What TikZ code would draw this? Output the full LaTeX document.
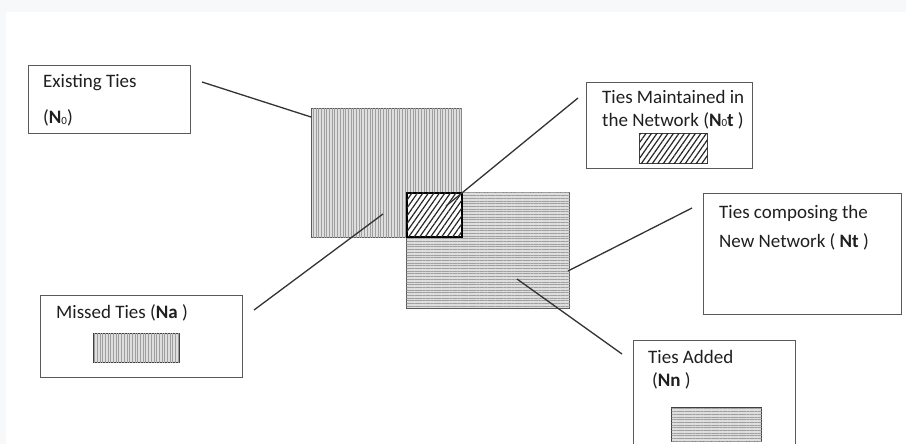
\documentclass[tikz,border=0pt]{standalone}
\usepackage{fontspec}
\setmainfont{Carlito}
\usetikzlibrary{patterns.meta}
\definecolor{edge}{HTML}{5A5A5A}
\definecolor{ink}{HTML}{333333}
\definecolor{band}{HTML}{F7F8FA}
\tikzset{
  x=1pt, y=-1pt,
  labelbox/.style={draw=edge, line width=1.3pt, fill=white, inner sep=0pt, anchor=north west},
  txt/.style={anchor=base west, inner sep=0pt, text=black!88, font=\fontsize{19}{23}\selectfont},
  leader/.style={draw=ink, line width=1.3pt},
  vfill/.style={fill=gray!26, postaction={pattern={Lines[angle=90,distance=2.7pt,line width=0.8pt]}, pattern color=gray!75}},
  hfill/.style={fill=gray!26, postaction={pattern={Lines[angle=0,distance=2.7pt,line width=0.8pt]}, pattern color=gray!75}},
  dfill/.style={fill=white, postaction={pattern={Lines[angle=55,distance=4.5pt,line width=1.2pt]}, pattern color=black!85}},
  hatchbox/.style={draw=black!75, line width=1.2pt, inner sep=0pt, anchor=north west},
}
\newcommand{\Nzero}{\textbf{N}{\fontsize{11}{11}\selectfont\raisebox{-1pt}{0}}}
\begin{document}
\begin{tikzpicture}
\useasboundingbox (0,0) rectangle (906,444);
\clip (0,0) rectangle (906,444);
% page frame
\fill[white] (0,0) rectangle (906,444);
\fill[band] (0,0) rectangle (906,12);
\fill[band] (0,12) rectangle (6,444);

% the two tie sets and their overlap
\node[hatchbox, vfill, draw=edge, minimum width=150pt, minimum height=129pt] (setA) at (311,108) {};
\node[hatchbox, hfill, draw=edge, minimum width=163pt, minimum height=116pt] (setB) at (406,192) {};
\node[hatchbox, dfill, draw=black, line width=1.6pt, minimum width=55pt, minimum height=44pt] (both) at (406,192) {};

% label boxes
\node[labelbox, minimum width=162pt, minimum height=68pt] (exist) at (28,65) {};
\node[txt] (existT) at (43,88) {Existing Ties};
\node[txt] (existN) at (43,124) {(\Nzero)};

\node[labelbox, minimum width=166pt, minimum height=86pt] (keep) at (586,82) {};
\node[txt] (keepT1) at (602,103) {Ties Maintained in};
\node[txt] (keepT2) at (602,126) {the Network (\Nzero\textbf{t} )};
\node[hatchbox, dfill, minimum width=68pt, minimum height=30pt] (keepK) at (639,133) {};

\node[labelbox, minimum width=198pt, minimum height=121pt] (newnet) at (703,193) {};
\node[txt] (newT1) at (719,218) {Ties composing the};
\node[txt] (newT2) at (719,247) {New Network ( \textbf{Nt} )};

\node[labelbox, minimum width=202pt, minimum height=82pt] (miss) at (40,295) {};
\node[txt] (missT) at (56,318) {Missed Ties (\textbf{Na} )};
\node[hatchbox, vfill, minimum width=86pt, minimum height=29pt] (missK) at (93,333) {};

\node[labelbox, minimum width=162pt, minimum height=130pt] (added) at (633,340) {};
\node[txt] (addT1) at (648,363) {Ties Added};
\node[txt] (addT2) at (652,386) {(\textbf{Nn} )};
\node[hatchbox, hfill, minimum width=90pt, minimum height=34pt] (addK) at (671,407) {};

% leader lines
\coordinate (p1) at (202,82);   \coordinate (q1) at (311,117);
\coordinate (p2) at (578,98);   \coordinate (q2) at (446,206);
\coordinate (p3) at (692,208);  \coordinate (q3) at (568,271);
\coordinate (p4) at (254,310);  \coordinate (q4) at (383,214);
\coordinate (p5) at (622,354);  \coordinate (q5) at (517,279);
\draw[leader] (p1) -- (q1);
\draw[leader] (p2) -- (q2);
\draw[leader] (p3) -- (q3);
\draw[leader] (p4) -- (q4);
\draw[leader] (p5) -- (q5);
\end{tikzpicture}
\end{document}
